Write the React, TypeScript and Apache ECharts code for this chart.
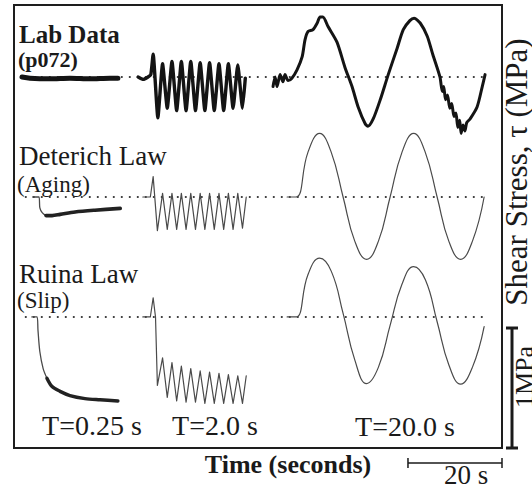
import React, { useEffect, useRef } from "react";
import * as echarts from "echarts";

// ---------------- texts ----------------
const ROW_TITLES = ["Lab Data", "Deterich Law", "Ruina Law"];
const ROW_SUBTITLES = ["(p072)", "(Aging)", "(Slip)"];
const PERIOD_LABELS = ["T=0.25 s", "T=2.0 s", "T=20.0 s"];
const X_AXIS_TITLE = "Time (seconds)";
const Y_AXIS_TITLE = "Shear Stress, τ (MPa)";
const STRESS_SCALE_LABEL = "1MPa";
const TIME_SCALE_LABEL = "20 s";
const STRESS_SCALE_MPA = 1;
const TIME_SCALE_S = 20;

// ---------------- data: [time since window start (s), Δτ from baseline (MPa)] ----------------
// T = 0.25 s window
const LAB_T025 = [[0, 0], [1.7, -0.01], [6.0, -0.015], [10.2, -0.01], [14.5, -0.015], [18.7, -0.01], [20.4, -0.01]];
const DET_T025_ONSET = [[2.3, 0], [3.6, 0], [3.8, -0.09], [4.3, -0.13], [5.1, -0.155]];
const DET_T025_TAIL = [[5.1, -0.155], [6.4, -0.155], [8.1, -0.145], [11.3, -0.125], [15.5, -0.11], [20.9, -0.095]];
const RUI_T025_ONSET = [[2.1, 0], [3.2, 0], [3.4, -0.11], [3.8, -0.29], [4.5, -0.43], [5.3, -0.51]];
const RUI_T025_TAIL = [[5.3, -0.51], [6.4, -0.58], [8.1, -0.62], [10.2, -0.655], [13.4, -0.68], [16.6, -0.69], [20.4, -0.70]];

// T = 2.0 s window
const LAB_T2 = [
  [0, 0], [1.1, -0.02], [2.1, 0], [2.7, 0.02], [3.2, 0.19], [4.2, -0.34],
  [5.2, 0.11], [6.2, -0.26], [7.2, 0.13], [8.2, -0.28], [9.2, 0.13], [10.2, -0.28],
  [11.2, 0.13], [12.2, -0.28], [13.2, 0.12], [14.2, -0.28], [15.2, 0.12], [16.2, -0.28],
  [17.2, 0.11], [18.2, -0.28], [19.2, 0.11], [20.2, -0.26], [21.2, 0.1], [22.2, -0.26], [22.8, -0.01],
];
const DET_T2 = [
  [1.0, 0], [2.6, 0], [3.2, 0.17], [4.1, -0.28],
  [5.2, 0.03], [6.2, -0.27], [7.2, 0.03], [8.2, -0.27], [9.2, 0.03], [10.2, -0.27],
  [11.2, 0.03], [12.2, -0.27], [13.2, 0.03], [14.2, -0.27], [15.2, 0.03], [16.2, -0.27],
  [17.2, 0.03], [18.2, -0.27], [19.2, 0.03], [20.2, -0.27], [21.2, 0.03], [22.2, -0.26], [23.0, 0.0],
];
const RUI_T2 = [
  [1.0, 0], [2.6, 0], [3.2, 0.16], [3.7, 0.0], [4.1, -0.57],
  [5.2, -0.34], [6.2, -0.67], [7.2, -0.38], [8.2, -0.7], [9.2, -0.41], [10.2, -0.71],
  [11.2, -0.43], [12.2, -0.71], [13.2, -0.45], [14.2, -0.72], [15.2, -0.46], [16.2, -0.72],
  [17.2, -0.47], [18.2, -0.72], [19.2, -0.48], [20.2, -0.72], [21.2, -0.49], [22.2, -0.72], [23.0, -0.49],
];

// T = 20.0 s window
const LAB_T20 = [
  [0, -0.08], [0.43, 0], [0.85, -0.08], [1.5, 0.02], [2.1, -0.04], [2.55, 0.02], [3.2, -0.03], [4.0, -0.01],
  [5.1, 0.06], [6.2, 0.17], [6.8, 0.31], [7.45, 0.38], [8.5, 0.395], [9.4, 0.45], [10.0, 0.5], [10.6, 0.5],
  [11.7, 0.42], [13.6, 0.29], [15.3, 0.08], [16.8, -0.08], [18.1, -0.25], [19.6, -0.39], [20.2, -0.41],
  [21.3, -0.35], [22.8, -0.19], [24.5, 0.02], [26.4, 0.24], [27.7, 0.395], [29.1, 0.47], [30.0, 0.49],
  [31.3, 0.45], [32.8, 0.34], [34.0, 0.185], [35.5, 0.0], [36.0, -0.12], [36.3, -0.08], [36.7, -0.19],
  [37.1, -0.15], [37.6, -0.26], [38.0, -0.22], [38.5, -0.33], [38.9, -0.3], [39.3, -0.42], [39.7, -0.36],
  [40.0, -0.47], [40.4, -0.4], [40.8, -0.45], [41.2, -0.38], [41.9, -0.35], [43.4, -0.25], [44.5, -0.08], [45.1, 0.02],
];
const DET_T20 = [
  [3.0, 0], [4.9, 0], [7.4, 0.37], [9.9, 0.53], [12.4, 0.37], [14.9, 0], [17.4, -0.37], [19.9, -0.52],
  [22.4, -0.37], [24.9, 0], [27.4, 0.37], [29.9, 0.53], [32.4, 0.37], [34.9, 0], [37.4, -0.37],
  [39.9, -0.52], [42.4, -0.37], [44.9, 0],
];
const RUI_T20 = [
  [3.0, 0], [4.9, 0], [7.4, 0.35], [9.9, 0.49], [12.4, 0.38], [14.9, 0.03], [17.4, -0.36], [19.9, -0.555],
  [22.4, -0.42], [24.9, -0.07], [27.4, 0.27], [29.9, 0.42], [32.4, 0.31], [34.9, -0.04], [37.4, -0.4],
  [39.9, -0.56], [42.4, -0.42], [44.9, -0.08],
];

// ---------------- layout ----------------
const W = 532;
const H = 489;
const GRID = { left: 14, top: 5, width: 488, height: 443 };
const X_MIN = 0;
const X_MAX = 103.8; // s across the framed area
const Y_MIN = -1.092; // MPa
const Y_MAX = 2.6;
const WINDOW_START = [1.7, 26.4, 55.1]; // s, start of each window on the broken time axis
const ROW_BASE = [2, 1, 0]; // MPa offset of each stacked trace
const BASELINE_SPAN = [2.5, 100.2];

const SERIF = '"Liberation Serif", "Times New Roman", Times, serif';
const INK = "#1a1a1a";
const LAB_COLOR = "#141414";
const MODEL_COLOR = "#4a4a4a";

type Trace = { row: number; win: number; data: number[][]; color: string; width: number; smooth: number };

const TRACES: Trace[] = [
  { row: 0, win: 0, data: LAB_T025, color: LAB_COLOR, width: 5, smooth: 0.3 },
  { row: 0, win: 1, data: LAB_T2, color: LAB_COLOR, width: 3.4, smooth: 0.15 },
  { row: 0, win: 2, data: LAB_T20, color: LAB_COLOR, width: 3, smooth: 0.25 },
  { row: 1, win: 0, data: DET_T025_ONSET, color: MODEL_COLOR, width: 1.3, smooth: 0.3 },
  { row: 1, win: 0, data: DET_T025_TAIL, color: "#222", width: 3.6, smooth: 0.3 },
  { row: 1, win: 1, data: DET_T2, color: MODEL_COLOR, width: 1.2, smooth: 0 },
  { row: 1, win: 2, data: DET_T20, color: MODEL_COLOR, width: 1.2, smooth: 0.45 },
  { row: 2, win: 0, data: RUI_T025_ONSET, color: MODEL_COLOR, width: 1.3, smooth: 0.3 },
  { row: 2, win: 0, data: RUI_T025_TAIL, color: "#222", width: 3.4, smooth: 0.3 },
  { row: 2, win: 1, data: RUI_T2, color: MODEL_COLOR, width: 1.2, smooth: 0 },
  { row: 2, win: 2, data: RUI_T20, color: MODEL_COLOR, width: 1.2, smooth: 0.45 },
];

const txt = (text: string, x: number, y: number, font: string, align = "left", rotation = 0) => ({
  type: "text",
  x,
  y,
  rotation,
  silent: true,
  z: 10,
  style: { text, font, fill: INK, align, verticalAlign: "middle" },
});

export default function App() {
  const ref = useRef<HTMLDivElement>(null);
  useEffect(() => {
    if (!ref.current) return;
    const chart = echarts.init(ref.current, null, { renderer: "svg", width: W, height: H });

    const series: any[] = [];
    ROW_BASE.forEach((base) => {
      series.push({
        type: "line",
        data: [[BASELINE_SPAN[0], base], [BASELINE_SPAN[1], base]],
        symbol: "none",
        silent: true,
        z: 1,
        lineStyle: { color: "#333", width: 2.1, type: [0.1, 7.9], cap: "round" },
      });
    });
    TRACES.forEach((tr) => {
      series.push({
        type: "line",
        data: tr.data.map(([t, v]) => [WINDOW_START[tr.win] + t, ROW_BASE[tr.row] + v]),
        symbol: "none",
        silent: true,
        z: 3,
        smooth: tr.smooth,
        lineStyle: { color: tr.color, width: tr.width, cap: "round", join: "round" },
      });
    });

    chart.setOption({
      animation: false,
      backgroundColor: "#ffffff",
      grid: {
        ...GRID,
        show: true,
        borderColor: "#1e1e1e",
        borderWidth: 2,
        backgroundColor: "transparent",
        containLabel: false,
      },
      xAxis: { type: "value", min: X_MIN, max: X_MAX, show: false },
      yAxis: { type: "value", min: Y_MIN, max: Y_MAX, show: false },
      series,
    });

    const px = (t: number, v: number) => chart.convertToPixel({ gridIndex: 0 }, [t, v]) as number[];
    const [, yBottom] = px(X_MIN, Y_MIN);
    const [, yTop] = px(X_MIN, Y_MIN + STRESS_SCALE_MPA);
    const [xRight] = px(X_MAX, Y_MIN);
    const [xLeft] = px(X_MAX - TIME_SCALE_S, Y_MIN);
    const barX = 512;
    const tBarY = 463;

    const f = (size: number, bold = false) => `${bold ? "bold " : ""}${size}px ${SERIF}`;

    const graphic: any[] = [
      txt(ROW_TITLES[0], 19, 34, f(25, true)),
      txt(ROW_SUBTITLES[0], 18, 59, f(22, true)),
      txt(ROW_TITLES[1], 19, 156, f(27)),
      txt(ROW_SUBTITLES[1], 17, 184, f(23)),
      txt(ROW_TITLES[2], 19, 274, f(27)),
      txt(ROW_SUBTITLES[2], 17, 300, f(23)),
      txt(PERIOD_LABELS[0], 92, 425, f(28), "center"),
      txt(PERIOD_LABELS[1], 215, 425, f(28), "center"),
      txt(PERIOD_LABELS[2], 405, 426, f(28), "center"),
      txt(X_AXIS_TITLE, 288, 464, f(26, true), "center"),
      txt(TIME_SCALE_LABEL, 466, 475, f(27), "center"),
      txt(Y_AXIS_TITLE, 516, 172, f(31), "center", Math.PI / 2),
      txt(STRESS_SCALE_LABEL, 524, 377, f(26), "center", Math.PI / 2),
      // 1 MPa scale bar
      { type: "line", silent: true, shape: { x1: barX, y1: yTop, x2: barX, y2: yBottom }, style: { stroke: INK, lineWidth: 3 } },
      { type: "line", silent: true, shape: { x1: barX - 6, y1: yTop, x2: barX + 6, y2: yTop }, style: { stroke: INK, lineWidth: 3 } },
      { type: "line", silent: true, shape: { x1: barX - 6, y1: yBottom, x2: barX + 6, y2: yBottom }, style: { stroke: INK, lineWidth: 3 } },
      // 20 s scale bar
      { type: "line", silent: true, shape: { x1: xLeft, y1: tBarY, x2: xRight, y2: tBarY }, style: { stroke: INK, lineWidth: 1.5 } },
      { type: "line", silent: true, shape: { x1: xLeft, y1: tBarY - 5, x2: xLeft, y2: tBarY + 5 }, style: { stroke: INK, lineWidth: 1.5 } },
      { type: "line", silent: true, shape: { x1: xRight, y1: tBarY - 5, x2: xRight, y2: tBarY + 5 }, style: { stroke: INK, lineWidth: 1.5 } },
    ];
    chart.setOption({ graphic });

    return () => chart.dispose();
  }, []);

  return (
    <div
      ref={ref}
      style={{ position: "fixed", left: 0, top: 0, width: W, height: H, background: "#fff" }}
    />
  );
}
